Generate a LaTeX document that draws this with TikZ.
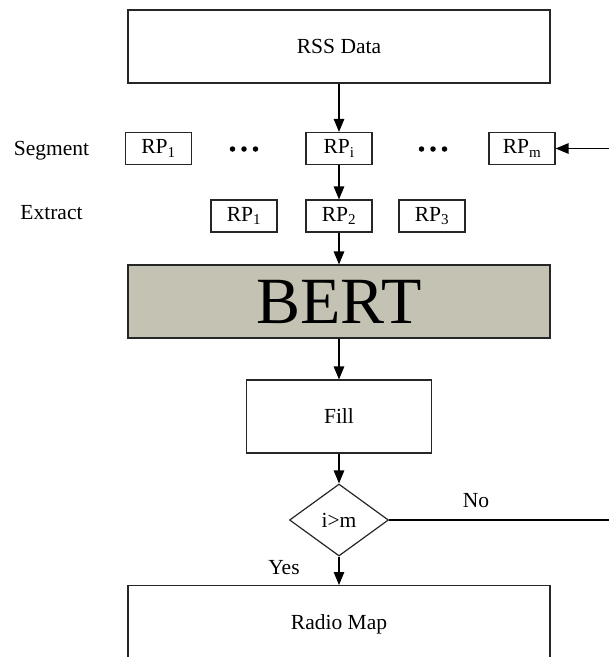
\documentclass[tikz,border=0pt]{standalone}
\usepackage{fontspec}
\setmainfont{Liberation Serif}
\usetikzlibrary{arrows.meta,shapes.geometric}

\tikzset{
  base/.style={font=\fontsize{21.5}{25}\selectfont},
  box/.style={base, draw=black!85, line width=1.2pt, inner sep=0pt, align=center},
  rpbox/.style={box, minimum width=66pt, minimum height=32pt},
  bigbox/.style={box, minimum width=422pt, minimum height=73pt},
  decision/.style={base, draw=black!85, line width=1.2pt, diamond, inner sep=0pt,
    minimum width=99pt, minimum height=72pt},
  flow/.style={draw=black, line width=1.3pt, -{Triangle[length=13pt,width=10.5pt]}},
  tag/.style={base, inner sep=0pt},
  dot/.style={circle, fill=black, inner sep=0pt, minimum size=5.5pt},
}

\begin{document}
\begin{tikzpicture}[x=1pt, y=-1pt]
  \useasboundingbox (0,0) rectangle (609,657);
  \clip (0,0) rectangle (609,657);

  % input data
  \node[bigbox] (rss) at (339,46.5) {RSS Data};

  % segmentation row
  \node[tag] (seglabel) at (51.5,151) {Segment};
  \node[rpbox] (seg1) at (158.5,148.5) {RP\textsubscript{1}};
  \node[rpbox] (segi) at (339,148.5) {RP\textsubscript{i}};
  \node[rpbox] (segm) at (522,148.5) {RP\textsubscript{m}};
  \foreach \cx [count=\k] in {244,433}{
    \node[dot] (dl\k) at (\cx-11.5,149) {};
    \node[dot] (dc\k) at (\cx,149) {};
    \node[dot] (dr\k) at (\cx+11.5,149) {};
  }

  % extraction row
  \node[tag] (extlabel) at (51.5,213) {Extract};
  \node[rpbox] (ext1) at (244,216) {RP\textsubscript{1}};
  \node[rpbox] (ext2) at (339,216) {RP\textsubscript{2}};
  \node[rpbox] (ext3) at (432,216) {RP\textsubscript{3}};

  % model
  \node[bigbox, fill={rgb,255:red,196;green,194;blue,178},
        font=\fontsize{66}{70}\selectfont] (bert) at (339,301.5) {BERT};

  % filling step
  \node[box, minimum width=185pt, minimum height=73pt] (fill) at (339,416.5) {Fill};

  % loop test
  \node[decision] (test) at (339,520) {i>m};

  % output
  \node[bigbox, minimum height=120pt, anchor=north,
        label={[tag, anchor=center, label distance=-39pt]90:Radio Map}] (radio) at (339,585) {};

  % connectors
  \draw[flow] (rss.south) -- (segi.north);
  \draw[flow] (segi.south) -- (ext2.north);
  \draw[flow] (ext2.south) -- (bert.north);
  \draw[flow] (bert.south) -- (fill.north);
  \draw[flow] (fill.south) -- (test.north);
  \draw[flow] (test.south) -- (radio.north);

  \coordinate (loopR) at (640,520);
  \draw[flow] (test.east) -- (loopR) |- (segm.east);

  \node[tag] (nolabel) at (476,501) {No};
  \node[tag] (yeslabel) at (284,568) {Yes};
\end{tikzpicture}
\end{document}
